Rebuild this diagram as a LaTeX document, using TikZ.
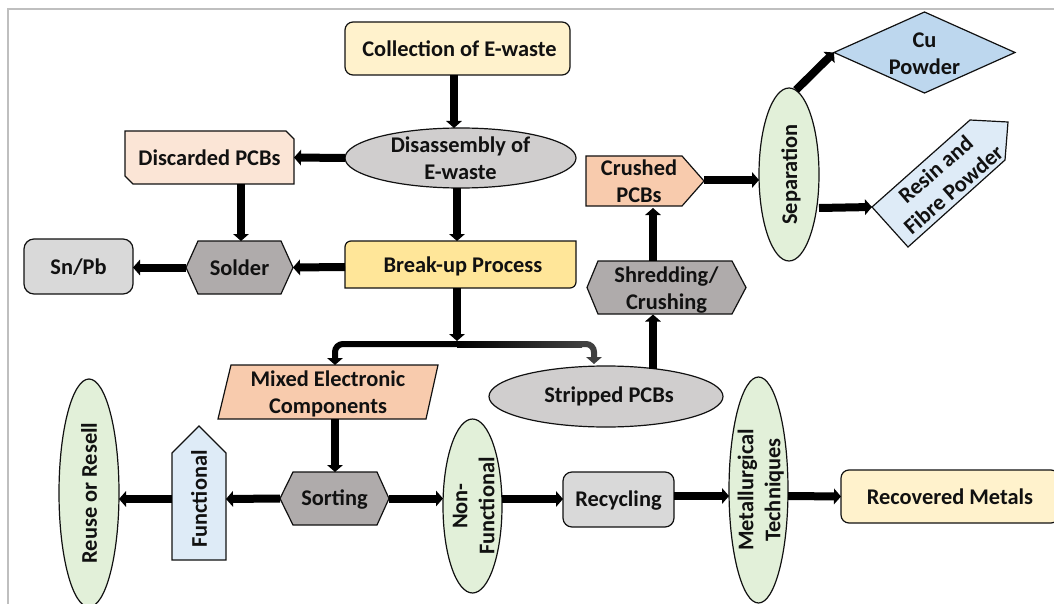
\documentclass[tikz,border=0pt]{standalone}
\usepackage{fontspec}
\usepackage{graphicx}
\setmainfont{Carlito}
\usetikzlibrary{arrows.meta,shapes.geometric,backgrounds,calc}
\definecolor{ink}{HTML}{111111}
\definecolor{cream}{HTML}{FFF2CC}
\definecolor{gold}{HTML}{FFE699}
\definecolor{greyA}{HTML}{D0CECE}
\definecolor{greyB}{HTML}{D9D9D9}
\definecolor{greyC}{HTML}{AFABAB}
\definecolor{peach}{HTML}{FBE5D6}
\definecolor{salmon}{HTML}{F8CBAD}
\definecolor{mint}{HTML}{E2F0D9}
\definecolor{sky}{HTML}{BDD7EE}
\definecolor{pale}{HTML}{DEEBF7}
\definecolor{fade}{HTML}{404040}
\newcommand\dropby[2]{\raisebox{-#1}[\height][\depth]{#2}}
\newcommand\twol[2]{\dropby{3pt}{\begin{tabular}{@{}c@{}}#1\\#2\end{tabular}}}
\newcommand\upt[1]{\rotatebox{90}{#1}}
\newcommand\low[1]{\dropby{1.5pt}{#1}}
\tikzset{
  x=1pt,y=-1pt,
  every node/.style={font=\fontsize{22.4}{27}\bfseries\selectfont,text=ink,inner sep=0pt,outer sep=0pt},
  outl/.style={draw=ink,line width=1.2pt},
  rbox/.style={outl,rectangle,rounded corners=#1},
  oval/.style={outl,ellipse,inner sep=-30pt},
  area/.style={rectangle},
  poly/.style={outl,line join=miter},
  arr/.style={draw=black,line width=8pt,-{Triangle[length=7pt,width=15.5pt]}},
  thinarr/.style={draw=black,line width=6pt,-{Triangle[length=7pt,width=15.5pt]}},
  frameline/.style={draw=black!25,line width=1.2pt},
}
\begin{document}
\begin{tikzpicture}
\useasboundingbox (0,0) rectangle (1054,604);
\begin{scope}[on background layer]
  \fill[white] (0,0) rectangle (1054,604);
  \draw[frameline] (8,604) -- (8,9) -- (1054,9);
  % discarded PCBs
  \draw[poly,fill=peach] (125,131) -- (286,131) -- (294,139) -- (294,184) -- (133,184) -- (125,176) -- cycle;
  % break-up: two rounded corners
  \draw[outl,fill=gold] (345,288) -- (345,247) to[out=90,in=180] (351,241) -- (576,241) -- (576,282) to[out=-90,in=0] (570,288) -- cycle;
  % hexagons
  \draw[poly,fill=greyC] (186,267.5) -- (198,241) -- (281,241) -- (293,267.5) -- (281,294) -- (198,294) -- cycle;
  \draw[poly,fill=greyC] (587,287.5) -- (598,261) -- (732,261) -- (746,287.5) -- (732,314) -- (598,314) -- cycle;
  \draw[poly,fill=greyC] (280,498.5) -- (293,472) -- (377,472) -- (389,498.5) -- (377,525) -- (293,525) -- cycle;
  % pentagons
  \draw[poly,fill=salmon] (586,156) -- (682,156) -- (704,181) -- (682,206) -- (586,206) -- cycle;
  \draw[poly,fill=pale] (172,560) -- (172,453) -- (199,426) -- (226,453) -- (226,560) -- cycle;
  \draw[poly,fill=pale] (872,207) -- (970,120) -- (1008,122) -- (1005,160) -- (908,247) -- cycle;
  % parallelogram
  \draw[poly,fill=salmon] (231,365) -- (438,365) -- (426,419) -- (218,419) -- cycle;
\end{scope}

\node[rbox=8pt,fill=cream,minimum width=225pt,minimum height=53pt] (coll) at (457.5,48.5) {\hspace*{4pt}Collection of E-waste};
\node[oval,fill=greyA,minimum width=231pt,minimum height=60pt] (dis) at (460.5,158) {\twol{Disassembly of}{E-waste}\hspace{7pt}};
\node[area,minimum width=169pt,minimum height=53pt] (disc) at (209.5,157.5) {Discarded PCBs};
\node[area,minimum width=231pt,minimum height=47pt] (brk) at (460.5,264.5) {\hspace*{5pt}\low{Break-up Process}};
\node[area,minimum width=107pt,minimum height=53pt] (sold) at (239.5,267.5) {Solder};
\node[rbox=10pt,fill=greyB,minimum width=109pt,minimum height=55pt] (snpb) at (78.5,266.5) {\dropby{1pt}{Sn/Pb}};
\node[area,minimum width=106pt,minimum height=50pt] (crush) at (639,181) {\twol{Crushed}{PCBs}};
\node[area,minimum width=159pt,minimum height=53pt] (shred) at (666.5,287.5) {\twol{Shredding/}{Crushing}};
\node[outl,diamond,aspect=2.23,fill=sky,inner sep=-30pt,minimum width=181pt,minimum height=81pt] (cu) at (924.5,52.5) {\twol{Cu}{Powder}};
\node[oval,fill=mint,minimum width=60pt,minimum height=173pt] (sep) at (789,174.5) {\upt{\dropby{2pt}{Separation}}};
\coordinate (resintip) at (872,207);
\node[rotate=41,area] (resin) at (944,179) {\twol{Resin and}{Fibre Powder}};
\node[oval,fill=greyA,minimum width=234pt,minimum height=61pt] (strip) at (606,396.5) {\hspace*{6pt}Stripped PCBs};
\node[area,minimum width=208pt,minimum height=54pt] (mix) at (328,392) {\twol{Mixed Electronic}{Components}};
\node[area,minimum width=109pt,minimum height=53pt] (sort) at (334.5,498.5) {\low{Sorting}};
\node[area,minimum width=54pt,minimum height=122pt] (func) at (199,499) {\upt{Functional}};
\node[oval,fill=mint,minimum width=60pt,minimum height=228pt] (reuse) at (89,493) {\upt{Reuse or Resell}};
\node[oval,fill=mint,minimum width=59pt,minimum height=174pt] (non) at (472.5,506) {\upt{\twol{Non-}{Functional}}};
\node[rbox=9pt,fill=greyB,minimum width=111pt,minimum height=55pt] (recy) at (618.5,499.5) {\low{Recycling}};
\node[oval,fill=mint,minimum width=59pt,minimum height=226pt] (met) at (758.5,490) {\upt{\twol{Metallurgical}{Techniques}}};
\node[rbox=8pt,fill=cream,minimum width=218pt,minimum height=53pt] (rec) at (950,496.5) {Recovered Metals};

\coordinate (junc) at (457,344);
\coordinate (barfade) at (582,344);

\draw[arr] ([xshift=-3.5pt]coll.south) -- ([xshift=-6.5pt]dis.north);
\draw[arr] (dis.west) -- (disc.east);
\draw[arr] ([xshift=-3.5pt]dis.south) -- ([xshift=-3.5pt]brk.north);
\draw[arr] ([xshift=31.5pt]disc.south) -- ([xshift=1.5pt]sold.north);
\draw[arr] ([yshift=-2.5pt]brk.west) -- (sold.east);
\draw[arr] (sold.west) -- ([yshift=-1pt]snpb.east);
\draw[arr] ([xshift=-3.5pt]brk.south) -- ([yshift=3pt]junc);
\draw[thinarr,rounded corners=8pt] (junc) -| ([xshift=7pt]mix.north);
\shade[left color=black,right color=fade] ([yshift=3pt]junc) rectangle ([yshift=-3pt]barfade);
\draw[line width=6pt,draw=fade,rounded corners=8pt,-{Triangle[length=7pt,width=15.5pt]}] (barfade) -| ([xshift=-12pt,yshift=2pt]strip.north);
\draw[arr] ([xshift=47pt,yshift=-3pt]strip.north) -- ([xshift=-13.5pt]shred.south);
\draw[arr] ([xshift=-13.5pt]shred.north) -- ([xshift=14pt]crush.south);
\draw[arr] ([xshift=12pt,yshift=1pt]crush.east) -- ([yshift=-5.5pt]sep.west);
\draw[arr] ([xshift=7pt,yshift=-2pt]sep.north) -- (cu.west);
\draw[arr] ([yshift=-33.5pt]sep.east) -- (resintip);
\draw[arr] ([xshift=7pt]mix.south) -- ([xshift=.5pt]sort.north);
\draw[arr] (sort.west) -- (func.east);
\draw[arr] (func.west) -- ([yshift=-6pt]reuse.east);
\draw[arr] (sort.east) -- ([yshift=7.5pt]non.west);
\draw[arr] ([yshift=7pt]non.east) -- ([yshift=.5pt]recy.west);
\draw[arr] ([yshift=3.5pt]recy.east) -- ([yshift=-6pt]met.west);
\draw[arr] ([yshift=-6pt]met.east) -- (rec.west);
\end{tikzpicture}
\end{document}
